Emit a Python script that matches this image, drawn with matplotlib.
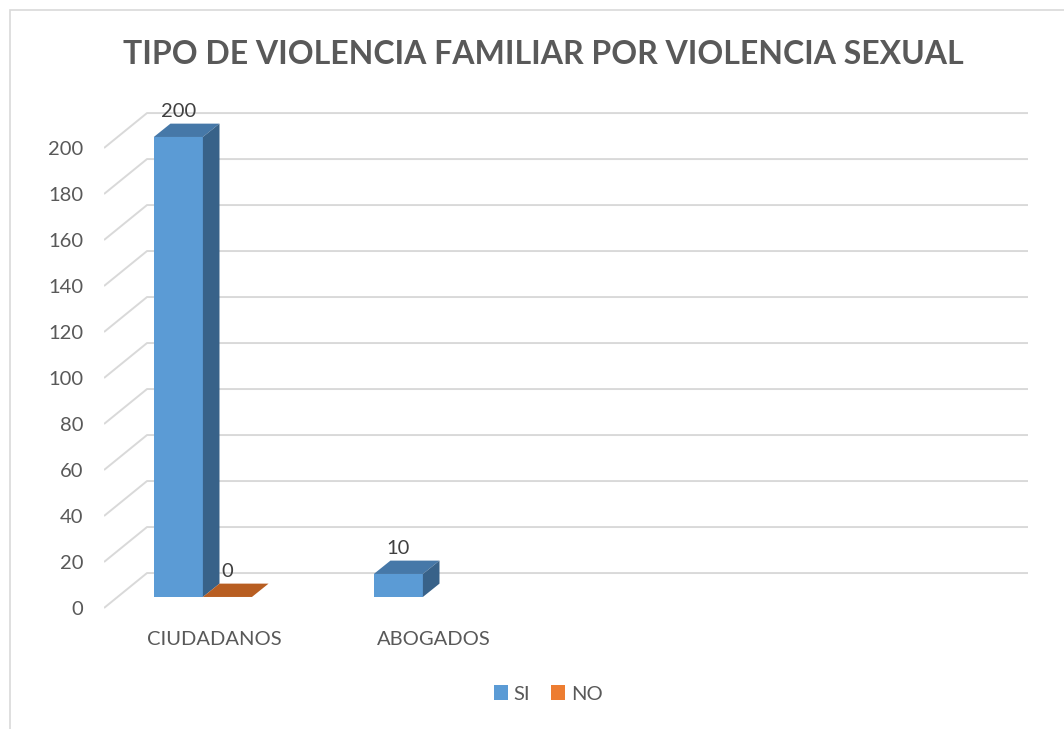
import matplotlib
matplotlib.use("Agg")
import matplotlib.pyplot as plt
from matplotlib.patches import Polygon, Patch, Rectangle
import numpy as np

# ---- data ----
categories = ["CIUDADANOS", "ABOGADOS", "", ""]
series_names = ["SI", "NO"]
si_values = [200, 10, None, None]
no_values = [0, None, None, None]
yticks = list(range(0, 201, 20))
title = "TIPO DE VIOLENCIA FAMILIAR POR VIOLENCIA SEXUAL"

# ---- style ----
plt.rcParams['font.family'] = ['Lato', 'DejaVu Sans']
txt = '#595959'
front_cols = ['#5b9bd5', '#ed7d31']
top_cols = ['#4678a8', '#b85e22']
side_cols = ['#386289', '#9a4d1a']
legend_cols = ['#5b9bd5', '#ed7d31']

W, H = 1064, 729
fig = plt.figure(figsize=(W / 100, H / 100), dpi=100)

# frame of the chart area
fig.patches.append(Rectangle((10 / W, -0.05), 1.2, 1 - 10 / H + 0.05, transform=fig.transFigure,
                             fill=False, edgecolor='#d9d9d9', lw=1.2))

xlim = (-0.5, 3.72)
ylim = (-2, 222)
ax = fig.add_axes([104 / W, 0.15967, (1032.4 - 104) / W, 0.7067])
ax.set_xlim(*xlim)
ax.set_ylim(*ylim)
for s in ax.spines.values():
    s.set_visible(False)

# wall depth (data units)
wdx, wdy = 43 / 220, 15.2
right_end = 3.70
for t in yticks:
    ax.plot([xlim[0], xlim[0] + wdx, right_end], [t, t + wdy, t + wdy],
            color='#d9d9d9', lw=1.4, zorder=1, solid_capstyle='butt')

ax.set_yticks(yticks)
ax.set_yticklabels([str(t) for t in yticks], fontsize=14.5, color=txt)
ax.tick_params(axis='y', length=0, pad=15)
ax.set_xticks(range(len(categories)))
ax.set_xticklabels(categories, fontsize=14.5, color=txt)
ax.tick_params(axis='x', length=0, pad=13)

# bars (placed slightly behind the front plane)
bw = 0.223
offsets = [-0.162, 0.061]
base = 4.8
bdx, bdy = 16.6 / 220, 5.8
x = np.arange(len(categories))
for si, vals in enumerate([si_values, no_values]):
    for i, v in enumerate(vals):
        if v is None:
            continue
        xc = x[i] + offsets[si]
        top = base + v
        ax.bar(xc, v, width=bw, bottom=base, color=front_cols[si], zorder=3, linewidth=0)
        x0, x1 = xc - bw / 2, xc + bw / 2
        ax.add_patch(Polygon([(x0, top), (x1, top), (x1 + bdx, top + bdy), (x0 + bdx, top + bdy)],
                             closed=True, facecolor=top_cols[si], edgecolor='none', zorder=3))
        if v > 0:
            ax.add_patch(Polygon([(x1, base), (x1 + bdx, base + bdy), (x1 + bdx, top + bdy), (x1, top)],
                                 closed=True, facecolor=side_cols[si], edgecolor='none', zorder=3))
        ax.annotate(str(v), (xc, top + bdy), xytext=(0, 2.5),
                    textcoords='offset points', ha='center', va='bottom',
                    fontsize=14.5, color='#404040', zorder=5)

fig.text(543 / W, 1 - 55 / H, title, ha='center', va='center', fontsize=23,
         fontweight='bold', color=txt)

handles = [Patch(facecolor=c, edgecolor='none') for c in legend_cols]
fig.legend(handles, series_names, loc='center', bbox_to_anchor=(548 / W, 1 - 694 / H),
           ncol=2, frameon=False, fontsize=14.5, handlelength=0.7, handleheight=0.7,
           handletextpad=0.3, columnspacing=1.0, labelcolor=txt)

fig.savefig('out.png', dpi=100)
